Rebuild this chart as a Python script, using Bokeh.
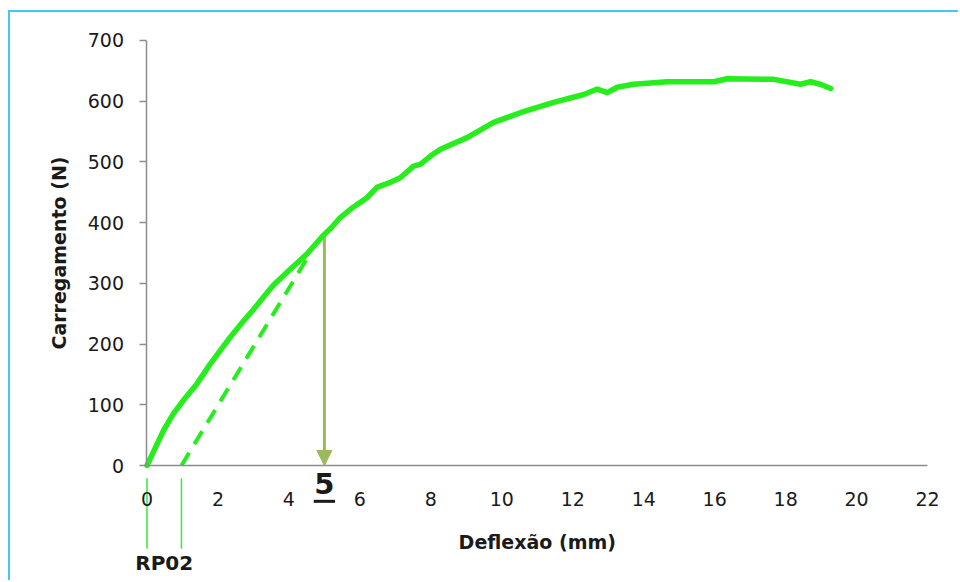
import math
from bokeh.plotting import figure
from bokeh.models import FixedTicker, Arrow, NormalHead, Range1d
from bokeh.core.properties import value
from bokeh.embed import file_html
from bokeh.resources import INLINE

# ---- data ----
deflexao = [0, 0.2, 0.46, 0.74, 1.02, 1.4, 1.78, 2.34, 2.72, 3.0, 3.28, 3.56, 4.03, 4.5,
            4.97, 5.2, 5.44, 5.8, 6.2, 6.48, 6.8, 7.14, 7.51, 7.7, 8.0, 8.27, 9.02,
            9.77, 10.52, 11.46, 12.31, 12.69, 12.97, 13.25, 13.72, 14.66, 15.98,
            16.35, 17.67, 18.42, 18.70, 18.98, 19.27]
carregamento = [0, 25, 57, 85, 107, 134, 167, 211, 238, 257, 277, 297, 323, 348,
                379, 392, 408, 425, 441, 458, 465, 474, 493, 496, 510, 521, 540,
                565, 581, 598, 611, 620, 614, 623, 628, 632, 632,
                637, 636, 628, 632, 628, 621]
x_ticks = [0, 2, 4, 6, 8, 10, 12, 14, 16, 18, 20, 22]
y_ticks = [0, 100, 200, 300, 400, 500, 600, 700]
offset_x = [0.97, 4.5]      # 0.2% offset (dashed) line
offset_y = [0, 340]
rp02_x = [0.0, 0.97]        # RP02 marker lines
arrow_x = 5
arrow_top = 380
arrow_label = "5"
rp02_label = "RP02"
x_title = "Deflexão (mm)"
y_title = "Carregamento (N)"

GREEN = "#26ee1c"
OLIVE = "#9bbb59"
FONT = "DejaVu Sans"
TXT = "#1a1a1a"

p = figure(width=950, height=570, output_backend="svg", toolbar_location=None,
           x_range=Range1d(-3.847, 22.928), y_range=Range1d(-192.7, 746.1),
           min_border=0)
p.styles = {"margin-left": "8px", "margin-top": "10px",
            "border-left": "2px solid #45c5f5", "border-top": "2px solid #45c5f5"}
p.grid.visible = False
p.outline_line_color = None
p.background_fill_color = "white"
p.border_fill_color = "white"

# y axis at x = 0
ya = p.yaxis[0]
ya.fixed_location = 0
ya.bounds = (0, 700)
ya.ticker = FixedTicker(ticks=y_ticks)
ya.major_tick_out = 7
ya.major_tick_in = 0
ya.minor_tick_out = 0
ya.minor_tick_in = 0
ya.major_tick_line_color = "#8c8c8c"
ya.axis_line_color = "#8c8c8c"
ya.axis_line_width = 1.5
ya.major_tick_line_width = 1.5
ya.major_label_standoff = 16
ya.major_label_text_font = FONT
ya.major_label_text_font_size = "19px"
ya.major_label_text_color = TXT

# x axis at y = 0
xa = p.xaxis[0]
xa.fixed_location = 0
xa.bounds = (0, 22)
xa.ticker = FixedTicker(ticks=x_ticks)
xa.major_tick_out = 0
xa.major_tick_in = 0
xa.minor_tick_out = 0
xa.minor_tick_in = 0
xa.axis_line_color = "#8c8c8c"
xa.axis_line_width = 1.5
xa.major_label_standoff = 26
xa.major_label_text_font = FONT
xa.major_label_text_font_size = "19px"
xa.major_label_text_color = TXT

# axis titles
p.text(x=[-2.466], y=[(y_ticks[0] + y_ticks[-1]) / 2], text=[y_title], angle=math.pi / 2,
       text_font=value(FONT), text_font_style="bold", text_font_size="19px",
       text_align="center", text_baseline="middle", text_color=TXT)
p.text(x=[(x_ticks[0] + x_ticks[-1]) / 2], y=[-126], text=[x_title],
       text_font=value(FONT), text_font_style="bold", text_font_size="19px",
       text_align="center", text_baseline="middle", text_color=TXT)

# arrow at deflection 5
arrow = Arrow(end=NormalHead(size=15, fill_color=OLIVE, line_color=OLIVE),
              x_start=arrow_x, y_start=arrow_top, x_end=arrow_x, y_end=0,
              line_color=OLIVE, line_width=3, level="underlay")
p.add_layout(arrow)

# offset dashed line
p.line(offset_x, offset_y, line_color=GREEN, line_width=4, line_dash="15 10")

# load-deflection curve
p.line(deflexao, carregamento, line_color=GREEN, line_width=5.5, line_join="round",
       line_cap="round")

# RP02 marker lines below the axis
p.segment(x0=rp02_x, y0=[-21] * len(rp02_x), x1=rp02_x, y1=[-137] * len(rp02_x),
          line_color="#33ee33", line_width=1.5)
p.text(x=[sum(rp02_x) / len(rp02_x)], y=[-160], text=[rp02_label],
       text_font=value(FONT), text_font_style="bold", text_font_size="20px",
       text_align="center", text_baseline="middle", text_color=TXT)

# "5" label with underline
p.text(x=[arrow_x], y=[-30], text=[arrow_label], text_font=value(FONT),
       text_font_style="bold", text_font_size="29px", text_align="center",
       text_baseline="middle", text_color=TXT)
p.line([arrow_x - 0.3, arrow_x + 0.3], [-59, -59], line_color=TXT, line_width=3)

open("out.html", "w").write(file_html(p, INLINE))
